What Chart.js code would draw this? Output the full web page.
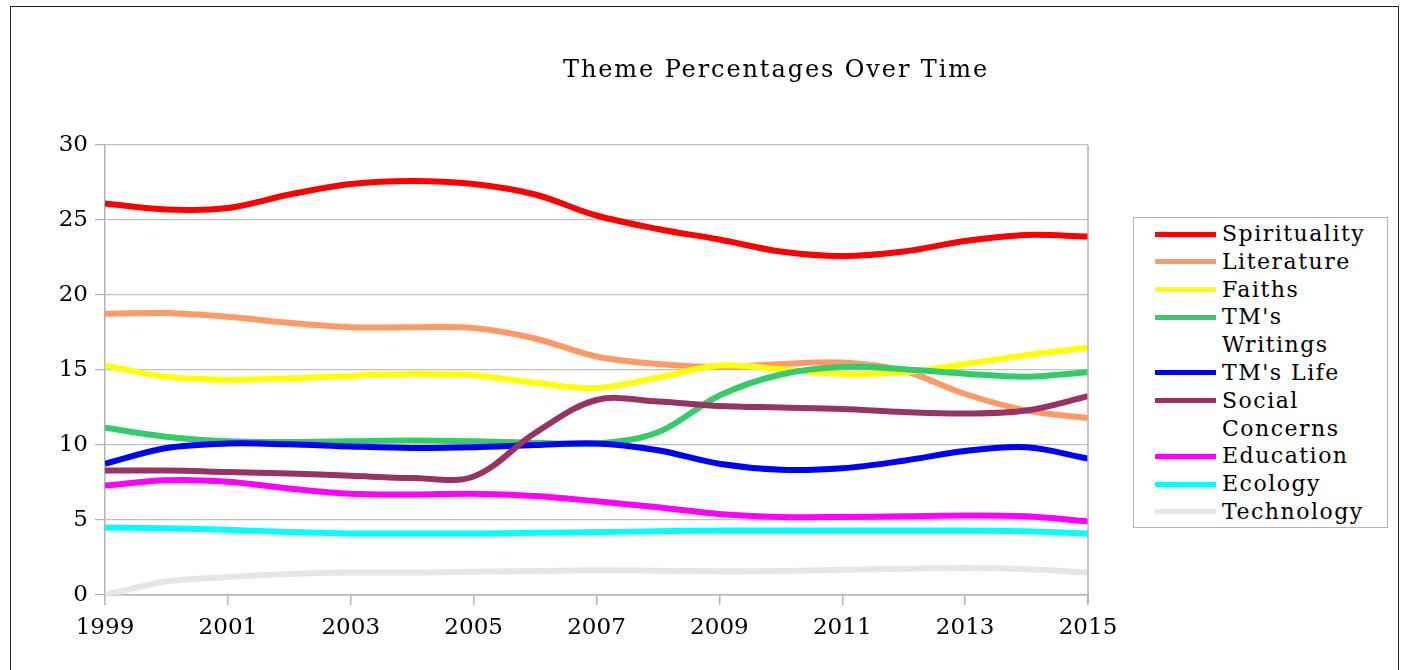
<!DOCTYPE html>
<html>
<head>
<meta charset="utf-8">
<script src="https://cdn.jsdelivr.net/npm/chart.js@4"></script>
<style>
  html, body { margin: 0; padding: 0; background: #fff; }
  body { width: 1407px; height: 670px; position: relative; overflow: hidden; font-family: "DejaVu Serif", serif; }
  #frame { position: absolute; left: 10px; top: 6px; width: 1389px; height: 700px; border: 1px solid #222; box-sizing: border-box; }
  #wrap { position: absolute; left: 0; top: 0; width: 1407px; height: 670px; }
  #title { position: absolute; left: 376px; width: 800px; top: 55px; text-align: center; font-size: 24px; letter-spacing: 1.9px; color: #000; white-space: nowrap; }
  #legend { position: absolute; left: 1133px; top: 217px; width: 255px; height: 311px; border: 1px solid #b3b3b3; box-sizing: border-box; background: #fff; padding-top: 2px; }
  .item { position: relative; padding-left: 88px; width: 158px; font-size: 22px; letter-spacing: 1.5px; line-height: 27.8px; color: #000; }
  .swatch { position: absolute; left: 21px; top: 11.5px; width: 61px; height: 5px; }
</style>
</head>
<body>
<div id="frame"></div>
<div id="wrap"><canvas id="c" width="1407" height="670"></canvas></div>
<div id="title">Theme Percentages Over Time</div>
<div id="legend"></div>
<script>
const years = [1999, 2000, 2001, 2002, 2003, 2004, 2005, 2006, 2007, 2008, 2009, 2010, 2011, 2012, 2013, 2014, 2015];
const seriesNames = ["Spirituality", "Literature", "Faiths", "TM's Writings", "TM's Life", "Social Concerns", "Education", "Ecology", "Technology"];
const spirituality = [26.1, 25.7, 25.8, 26.7, 27.4, 27.6, 27.4, 26.7, 25.3, 24.4, 23.7, 22.9, 22.6, 22.9, 23.6, 24.0, 23.9];
const literature   = [18.75, 18.8, 18.55, 18.15, 17.85, 17.85, 17.8, 17.1, 15.9, 15.4, 15.2, 15.4, 15.5, 14.95, 13.4, 12.3, 11.8];
const faiths       = [15.3, 14.55, 14.35, 14.45, 14.6, 14.75, 14.65, 14.15, 13.8, 14.5, 15.3, 15.05, 14.75, 14.85, 15.4, 16.0, 16.5];
const tmWritings   = [11.15, 10.55, 10.25, 10.2, 10.25, 10.3, 10.25, 10.15, 10.1, 10.85, 13.3, 14.7, 15.2, 15.05, 14.75, 14.55, 14.85];
const tmLife       = [8.75, 9.8, 10.1, 10.05, 9.9, 9.8, 9.85, 10.0, 10.1, 9.65, 8.75, 8.35, 8.45, 8.95, 9.6, 9.85, 9.1];
const social       = [8.3, 8.3, 8.2, 8.1, 7.95, 7.8, 7.9, 10.8, 13.0, 12.9, 12.6, 12.5, 12.4, 12.2, 12.1, 12.3, 13.25];
const education    = [7.3, 7.65, 7.55, 7.1, 6.75, 6.7, 6.75, 6.6, 6.25, 5.85, 5.4, 5.2, 5.2, 5.25, 5.3, 5.25, 4.9];
const ecology      = [4.5, 4.45, 4.35, 4.2, 4.1, 4.1, 4.1, 4.15, 4.2, 4.25, 4.3, 4.3, 4.3, 4.3, 4.3, 4.25, 4.1];
const technology   = [0.0, 0.9, 1.2, 1.4, 1.5, 1.5, 1.55, 1.6, 1.65, 1.62, 1.58, 1.6, 1.68, 1.75, 1.8, 1.72, 1.5];
const yTicks = [0, 5, 10, 15, 20, 25, 30];

const allSeries = [spirituality, literature, faiths, tmWritings, tmLife, social, education, ecology, technology];
const colors = ["#ff0000", "#ff9966", "#ffff00", "#33cc66", "#0000ff", "#993366", "#ff00ff", "#00ffff", "#e6e6e6"];

const datasets = allSeries.map((vals, i) => ({
  label: seriesNames[i],
  data: vals.map((v, j) => ({ x: years[j], y: v })),
  borderColor: colors[i],
  backgroundColor: colors[i],
  borderWidth: 6,
  pointRadius: 0,
  tension: 0.35,
  fill: false,
  order: allSeries.length - i
}));

const rightBorder = {
  id: 'rightBorder',
  afterDraw(chart) {
    const { ctx, chartArea } = chart;
    ctx.save();
    ctx.strokeStyle = '#b3b3b3';
    ctx.lineWidth = 1.5;
    ctx.beginPath();
    ctx.moveTo(chartArea.right, chartArea.top);
    ctx.lineTo(chartArea.right, chartArea.bottom + 9);
    ctx.stroke();
    ctx.restore();
  }
};

new Chart(document.getElementById('c'), {
  type: 'line',
  data: { datasets },
  plugins: [rightBorder],
  options: {
    responsive: false,
    animation: false,
    events: [],
    layout: { padding: { left: 0, top: 145, right: 319, bottom: 0 } },
    plugins: { legend: { display: false }, title: { display: false }, tooltip: { enabled: false } },
    scales: {
      x: {
        type: 'linear',
        min: 1999, max: 2015,
        afterFit(s) { s.height = 75; },
        ticks: { stepSize: 2, padding: 9, color: '#000', font: { family: 'DejaVu Serif', size: 23 }, callback: v => String(v), maxRotation: 0 },
        grid: { drawOnChartArea: false, drawTicks: true, tickLength: 10, color: '#b3b3b3', lineWidth: 1.5 },
        border: { color: '#b3b3b3', width: 1.5 }
      },
      y: {
        min: 0, max: 30,
        afterFit(s) { s.width = 105; },
        afterBuildTicks(s) { s.ticks = yTicks.map(v => ({ value: v })); },
        ticks: { padding: 7, color: '#000', font: { family: 'DejaVu Serif', size: 23 } },
        grid: { color: '#c0c0c0', lineWidth: 1.2, tickLength: 10, tickColor: '#b3b3b3' },
        border: { color: '#b3b3b3', width: 1.5 }
      }
    }
  }
});

const legend = document.getElementById('legend');
seriesNames.forEach((name, i) => {
  const d = document.createElement('div');
  d.className = 'item';
  const sw = document.createElement('span');
  sw.className = 'swatch';
  sw.style.background = colors[i];
  d.appendChild(sw);
  d.appendChild(document.createTextNode(name));
  legend.appendChild(d);
});
</script>
</body>
</html>
